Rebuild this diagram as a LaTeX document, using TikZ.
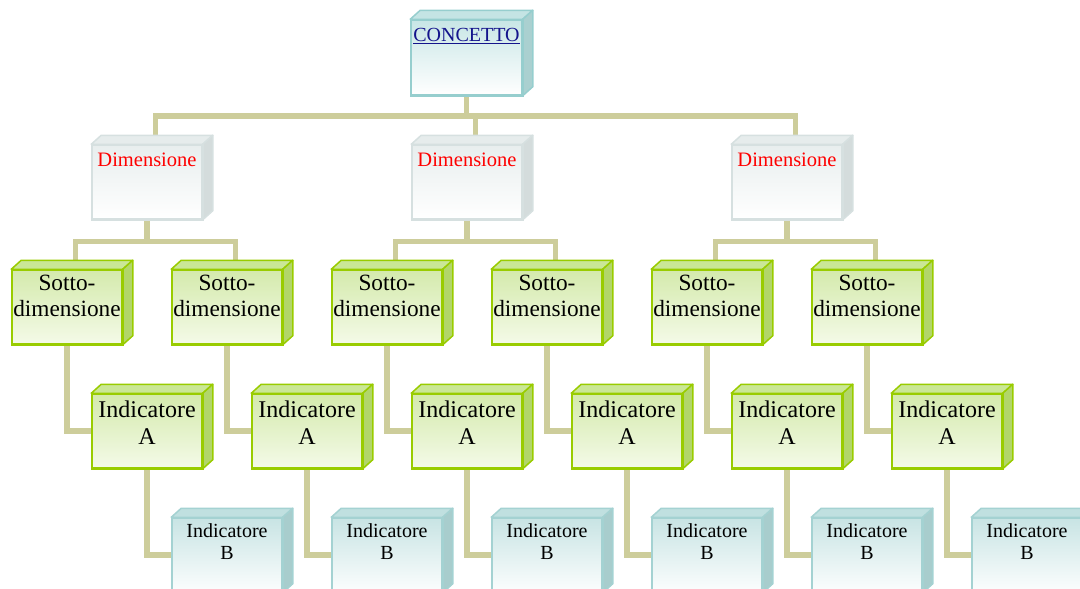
\documentclass[tikz,border=0pt]{standalone}
\usepackage{fontspec}
\setmainfont{Liberation Serif}
\usetikzlibrary{calc,backgrounds}
\definecolor{connc}{RGB}{205,205,155}
\definecolor{navyc}{RGB}{20,20,140}
% concetto (teal)
\definecolor{tealdraw}{RGB}{150,206,206}
\definecolor{tealtop}{RGB}{196,228,228}
\definecolor{tealside}{RGB}{170,208,208}
\definecolor{tealfront}{RGB}{200,230,230}
% dimension (grey)
\definecolor{greydraw}{RGB}{214,224,224}
\definecolor{greytop}{RGB}{230,236,236}
\definecolor{greyside}{RGB}{212,220,220}
\definecolor{greyfront}{RGB}{232,238,238}
% green
\definecolor{greendraw}{RGB}{153,204,0}
\definecolor{greentop}{RGB}{202,231,150}
\definecolor{greenside}{RGB}{178,214,105}
\definecolor{greenfront}{RGB}{212,234,172}
\definecolor{greenback}{RGB}{244,250,232}
% light blue
\definecolor{bluedraw}{RGB}{164,210,210}
\definecolor{bluetop}{RGB}{192,224,224}
\definecolor{blueside}{RGB}{168,205,205}
\definecolor{bluefront}{RGB}{200,228,228}
\newcommand\boxfaces[4]{%
  \draw[#4,line width=1.5pt,line join=round,fill=#2] (#1.north west) -- ++(10,-9) -- ($(#1.north east)+(10,-9)$) -- (#1.north east) -- cycle;
  \draw[#4,line width=1.5pt,line join=round,fill=#3] (#1.north east) -- ++(10,-9) -- ($(#1.south east)+(10,-9)$) -- (#1.south east) -- cycle;
  \draw[#4,line width=1.5pt] (#1.north west) rectangle (#1.south east);
}
\begin{document}
\begin{tikzpicture}[x=1pt,y=-1pt,
  boxbase/.style={rectangle,inner sep=0pt,minimum width=110pt,minimum height=74pt,line width=1.5pt},
  cbox/.style={boxbase,minimum width=111pt,minimum height=75pt,draw=tealdraw,top color=tealfront,bottom color=white},
  dbox/.style={boxbase,draw=greydraw,top color=greyfront,bottom color=white},
  gbox/.style={boxbase,draw=greendraw,top color=greenfront,bottom color=greenback},
  lbbox/.style={boxbase,draw=bluedraw,top color=bluefront,bottom color=white!94!bluefront},
  conn/.style={draw=connc,line width=5.5pt,line join=miter},
  ctext/.style={anchor=base,inner sep=0pt,text=navyc,font=\fontsize{20}{23}\selectfont},
  dtext/.style={anchor=base,inner sep=0pt,text=red,font=\fontsize{20.5}{24}\selectfont},
  stext/.style={anchor=base,inner sep=0pt,align=center,font=\fontsize{23.3}{26.5}\selectfont},
  atext/.style={anchor=base,inner sep=0pt,align=center,font=\fontsize{24}{27}\selectfont},
  btext/.style={anchor=base,inner sep=0pt,align=center,font=\fontsize{20}{22}\selectfont},
]
\useasboundingbox (0,0) rectangle (1080,589);
\clip (0,0) rectangle (1080,589);

% top
\node[cbox] (c) at (466.5,57.5) {};
\boxfaces{c}{tealtop}{tealside}{tealdraw}
\node[ctext] (ct) at ([yshift=-22pt]c.north) {\underline{CONCETTO}};

% dimensions
\foreach \k in {1,2,3}{
  \node[dbox] (d\k) at ({147+320*(\k-1)},182) {};
  \boxfaces{d\k}{greytop}{greyside}{greydraw}
  \node[dtext] (dt\k) at ([yshift=-22pt]d\k.north) {Dimensione};
}

% sotto-dimensioni, indicatori A and B (anchor base = last line)
\foreach \j in {1,...,6}{
  \node[gbox] (s\j) at ({67+160*(\j-1)},307) {};
  \boxfaces{s\j}{greentop}{greenside}{greendraw}
  \node[stext] (st\j) at ([yshift=-47.5pt]s\j.north) {Sotto-\\dimensione};
  \node[gbox] (a\j) at ({147+160*(\j-1)},431) {};
  \boxfaces{a\j}{greentop}{greenside}{greendraw}
  \node[atext] (at\j) at ([yshift=-51pt]a\j.north) {Indicatore\\A};
  \node[lbbox] (b\j) at ({227+160*(\j-1)},555) {};
  \boxfaces{b\j}{bluetop}{blueside}{bluedraw}
  \node[btext] (bt\j) at ([yshift=-42.5pt]b\j.north) {Indicatore\\B};
}

\begin{pgfonlayer}{background}
  \coordinate (bar) at (466.5,116);
  \draw[conn] (c.south) -- (c.south |- bar);
  \draw[conn] ([xshift=8.5pt]d1.north) -- ([xshift=8.5pt]d1.north |- bar) -- ([xshift=8.5pt]d3.north |- bar) -- ([xshift=8.5pt]d3.north);
  \draw[conn] ([xshift=8.5pt]d2.north) -- ([xshift=8.5pt]d2.north |- bar);
  \foreach \k/\l/\r in {1/1/2,2/3/4,3/5/6}{
    \coordinate (bar\k) at ($(d\k.south)+(0,21.5)$);
    \draw[conn] (d\k.south) -- (bar\k);
    \draw[conn] ([xshift=8.5pt]s\l.north) -- ([xshift=8.5pt]s\l.north |- bar\k) -- ([xshift=8.5pt]s\r.north |- bar\k) -- ([xshift=8.5pt]s\r.north);
  }
  \foreach \j in {1,...,6}{
    \draw[conn] (s\j.south) |- (a\j.west);
    \draw[conn] (a\j.south) |- (b\j.west);
  }
\end{pgfonlayer}
\end{tikzpicture}
\end{document}
